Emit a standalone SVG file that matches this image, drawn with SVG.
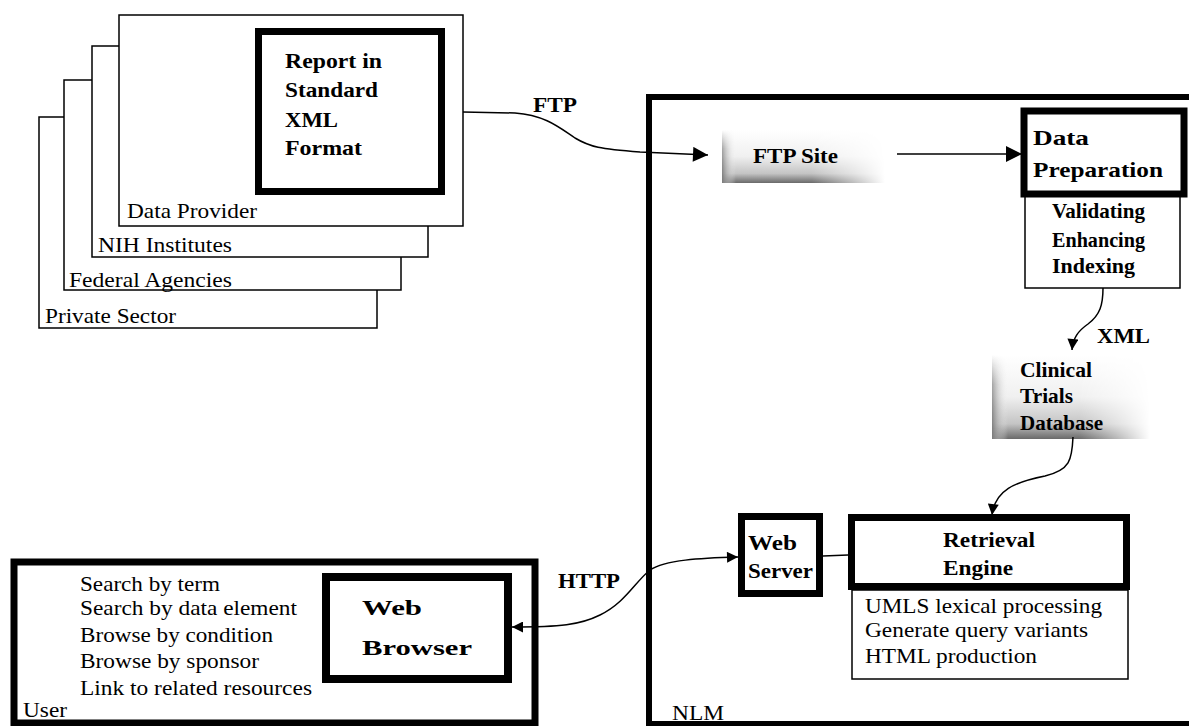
<svg xmlns="http://www.w3.org/2000/svg" width="1189" height="726" viewBox="0 0 1189 726">
<style>
.t{font-family:"Liberation Serif","Times New Roman",serif;font-size:21px;fill:#000}
.b{font-weight:bold}
.thin{fill:#fff;stroke:#000;stroke-width:1.5}
.thick{fill:#fff;stroke:#000;stroke-width:7}
.con{fill:none;stroke:#000;stroke-width:1.5}
</style>
<defs>
<marker id="aL" viewBox="0 0 10 10" refX="10" refY="5" markerUnits="userSpaceOnUse" markerWidth="18" markerHeight="15" orient="auto"><path d="M0,0 L10,5 L0,10 z" fill="#000"/></marker>
<marker id="aXL" viewBox="0 0 10 10" refX="10" refY="5" markerUnits="userSpaceOnUse" markerWidth="23" markerHeight="16" orient="auto"><path d="M0,0 L10,5 L0,10 z" fill="#000"/></marker>
<marker id="aS" viewBox="0 0 10 10" refX="10" refY="5" markerUnits="userSpaceOnUse" markerWidth="12" markerHeight="11" orient="auto-start-reverse"><path d="M0,0 L10,5 L0,10 z" fill="#000"/></marker>
<linearGradient id="gv" x1="0" y1="0" x2="0" y2="1">
<stop offset="0" stop-color="#ffffff"/><stop offset="0.5" stop-color="#f0f0f0"/><stop offset="0.82" stop-color="#c4c4c4"/><stop offset="1" stop-color="#6a6a6a"/>
</linearGradient>
<linearGradient id="gl" x1="0" y1="0" x2="1" y2="0">
<stop offset="0" stop-color="#7a7a7a"/><stop offset="1" stop-color="#ffffff" stop-opacity="0"/>
</linearGradient>
<linearGradient id="fadeH" x1="0" y1="0" x2="1" y2="0">
<stop offset="0" stop-color="#fff"/><stop offset="0.55" stop-color="#fff"/><stop offset="0.8" stop-color="#777"/><stop offset="1" stop-color="#000"/>
</linearGradient>
<linearGradient id="fadeV" x1="0" y1="0" x2="0" y2="1">
<stop offset="0" stop-color="#000"/><stop offset="0.35" stop-color="#aaa"/><stop offset="1" stop-color="#fff"/>
</linearGradient>
<mask id="mH" maskContentUnits="objectBoundingBox"><rect width="1" height="1" fill="url(#fadeH)"/></mask>
<mask id="mV" maskContentUnits="objectBoundingBox"><rect width="1" height="1" fill="url(#fadeV)"/></mask>
</defs>
<rect width="1189" height="726" fill="#fff"/>

<g id="private-sector">
<rect class="thin" x="39" y="117" width="338" height="211"/>
<text class="t" x="45" y="323" textLength="131" lengthAdjust="spacingAndGlyphs">Private Sector</text>
</g>
<g id="federal-agencies">
<rect class="thin" x="64" y="80" width="337" height="210"/>
<text class="t" x="69" y="287" textLength="163" lengthAdjust="spacingAndGlyphs">Federal Agencies</text>
</g>
<g id="nih-institutes">
<rect class="thin" x="92" y="46" width="336" height="211"/>
<text class="t" x="98" y="252" textLength="134" lengthAdjust="spacingAndGlyphs">NIH Institutes</text>
</g>
<g id="data-provider">
<rect class="thin" x="119" y="15" width="344" height="211"/>
<text class="t" x="127" y="218" textLength="130" lengthAdjust="spacingAndGlyphs">Data Provider</text>
</g>
<g id="report">
<rect class="thick" x="258.5" y="31.5" width="183" height="160"/>
<text class="t b" font-size="22" x="285" y="68" textLength="97" lengthAdjust="spacingAndGlyphs">Report in</text>
<text class="t b" font-size="22" x="285" y="97" textLength="93" lengthAdjust="spacingAndGlyphs">Standard</text>
<text class="t b" font-size="22" x="285" y="127" textLength="53" lengthAdjust="spacingAndGlyphs">XML</text>
<text class="t b" font-size="22" x="285" y="155" textLength="77" lengthAdjust="spacingAndGlyphs">Format</text>
</g>

<g id="nlm">
<rect x="649" y="97" width="548" height="627" fill="none" stroke="#000" stroke-width="6"/>
<text class="t" x="672" y="720" textLength="52" lengthAdjust="spacingAndGlyphs">NLM</text>
</g>

<g id="ftp-site">
<rect x="722" y="130" width="163" height="53" fill="url(#gv)" mask="url(#mH)"/>
<rect x="722" y="130" width="14" height="53" fill="url(#gl)" mask="url(#mV)"/>
<text class="t b" x="753" y="163" textLength="85" lengthAdjust="spacingAndGlyphs">FTP Site</text>
</g>

<g id="data-preparation">
<rect class="thin" x="1025" y="194" width="155" height="94"/>
<rect class="thick" x="1024" y="111" width="160" height="83" stroke-width="8"/>
<text class="t b" x="1033" y="145" textLength="56" lengthAdjust="spacingAndGlyphs">Data</text>
<text class="t b" x="1033" y="177" textLength="130" lengthAdjust="spacingAndGlyphs">Preparation</text>
<text class="t b" font-size="20" x="1052" y="218" textLength="93" lengthAdjust="spacingAndGlyphs">Validating</text>
<text class="t b" font-size="20" x="1052" y="247" textLength="93" lengthAdjust="spacingAndGlyphs">Enhancing</text>
<text class="t b" font-size="20" x="1052" y="273" textLength="83" lengthAdjust="spacingAndGlyphs">Indexing</text>
</g>

<g id="clinical-trials-database">
<rect x="992" y="355" width="158" height="84" fill="url(#gv)" mask="url(#mH)"/>
<rect x="992" y="355" width="16" height="84" fill="url(#gl)" mask="url(#mV)"/>
<text class="t b" x="1020" y="377" textLength="72" lengthAdjust="spacingAndGlyphs">Clinical</text>
<text class="t b" x="1020" y="403" textLength="53" lengthAdjust="spacingAndGlyphs">Trials</text>
<text class="t b" x="1020" y="430" textLength="83" lengthAdjust="spacingAndGlyphs">Database</text>
</g>

<g id="web-server">
<rect class="thick" x="741.5" y="516.5" width="78" height="77"/>
<text class="t b" x="748" y="550" textLength="49" lengthAdjust="spacingAndGlyphs">Web</text>
<text class="t b" x="748" y="578" textLength="65" lengthAdjust="spacingAndGlyphs">Server</text>
</g>

<g id="retrieval-engine">
<rect class="thin" x="852" y="590" width="276" height="89"/>
<rect class="thick" x="851.5" y="517.5" width="275" height="69"/>
<text class="t b" x="943" y="547" textLength="92" lengthAdjust="spacingAndGlyphs">Retrieval</text>
<text class="t b" x="943" y="575" textLength="70" lengthAdjust="spacingAndGlyphs">Engine</text>
<text class="t" x="865" y="613" textLength="237" lengthAdjust="spacingAndGlyphs">UMLS lexical processing</text>
<text class="t" x="865" y="637" textLength="223" lengthAdjust="spacingAndGlyphs">Generate query variants</text>
<text class="t" x="865" y="663" textLength="172" lengthAdjust="spacingAndGlyphs">HTML production</text>
</g>

<g id="user">
<rect x="14" y="562" width="521" height="161" fill="#fff" stroke="#000" stroke-width="7"/>
<text class="t" x="80" y="591" textLength="140" lengthAdjust="spacingAndGlyphs">Search by term</text>
<text class="t" x="80" y="615" textLength="217" lengthAdjust="spacingAndGlyphs">Search by data element</text>
<text class="t" x="80" y="642" textLength="193" lengthAdjust="spacingAndGlyphs">Browse by condition</text>
<text class="t" x="80" y="668" textLength="179" lengthAdjust="spacingAndGlyphs">Browse by sponsor</text>
<text class="t" x="80" y="695" textLength="232" lengthAdjust="spacingAndGlyphs">Link to related resources</text>
<text class="t" x="23" y="717" textLength="44" lengthAdjust="spacingAndGlyphs">User</text>
</g>

<g id="web-browser">
<rect x="326" y="577" width="182" height="102" fill="#fff" stroke="#000" stroke-width="8"/>
<text class="t b" font-size="24" x="362" y="615" textLength="60" lengthAdjust="spacingAndGlyphs">Web</text>
<text class="t b" font-size="24" x="362" y="655" textLength="110" lengthAdjust="spacingAndGlyphs">Browser</text>
</g>

<g id="connectors">
<path class="con" d="M463,112 L515,113 C545,115 560,128 575,138 C590,147 600,149 640,152 L708,155" marker-end="url(#aL)"/>
<path class="con" d="M897,154 L1022,154" marker-end="url(#aXL)"/>
<path class="con" d="M1103,288 C1103,305 1100,315 1088,324 C1078,331 1073,338 1072,350" marker-end="url(#aS)"/>
<path class="con" d="M1073,437 C1072,460 1070,470 1045,476 C1015,482 995,490 992,515" marker-end="url(#aS)"/>
<path class="con" d="M823,556 L848,555"/>
<path class="con" d="M738,557 C700,558 665,560 650,570 C635,582 625,603 600,615 C580,625 560,627 512,627" marker-start="url(#aS)" marker-end="url(#aS)"/>
<text class="t b" x="533" y="112" textLength="44" lengthAdjust="spacingAndGlyphs">FTP</text>
<text class="t b" x="1097" y="343" textLength="53" lengthAdjust="spacingAndGlyphs">XML</text>
<text class="t b" x="558" y="588" textLength="62" lengthAdjust="spacingAndGlyphs">HTTP</text>
</g>
</svg>
